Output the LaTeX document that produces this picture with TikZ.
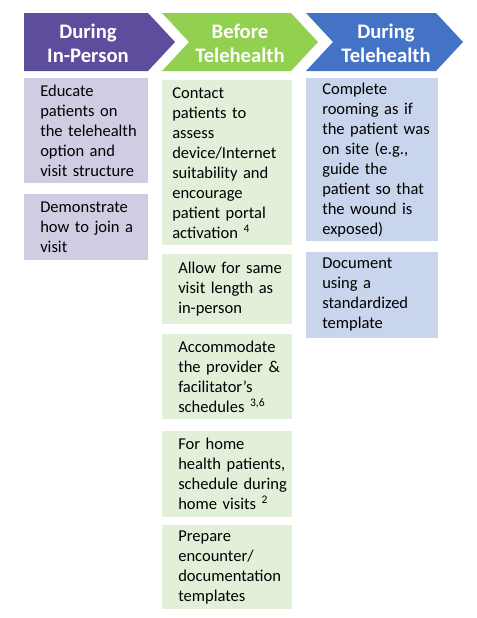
\documentclass[tikz,border=0pt]{standalone}
\usepackage{fontspec}
\setmainfont{Carlito}
\usepackage{tikz}
\usetikzlibrary{positioning}
\definecolor{my_purple}{HTML}{5E4C9C}
\definecolor{my_green}{HTML}{92D050}
\definecolor{my_blue}{HTML}{4472C4}
\definecolor{my_lightpurple}{HTML}{CFCDE3}
\definecolor{my_lightgreen}{HTML}{E2EFD9}
\definecolor{my_lightblue}{HTML}{C9D4ED}
\hyphenpenalty=10000

\begin{document}
\begin{tikzpicture}[
    x=0.75pt, y=-0.75pt,
    head/.style={font=\fontsize{15.5}{18}\selectfont\bfseries, text=white, align=center, inner sep=0pt},
    box/.style={font=\fontsize{12.4}{15}\selectfont, inner xsep=0pt, inner ysep=0pt, align=left,
        execute at begin node={\setlength{\leftskip}{12pt}\rightskip=-10pt plus 1fil}},
    pad/.style={execute at begin node={\setlength{\leftskip}{#1}}}
]
\useasboundingbox (0,0) rectangle (476,618);

% ================================================================
% KOPFZEILE: drei Pfeile
% ================================================================
\coordinate (P1) at (24,13);
\coordinate (G1) at (162,13);
\coordinate (B1) at (306,13);

\fill[my_purple] (P1) -- ++(124,0) -- ++(27,29) -- ++(-27,29) -- ++(-124,0) -- cycle;
\fill[my_green]  (G1) -- ++(129,0) -- ++(27,29) -- ++(-27,29) -- ++(-129,0) -- ++(27,-29) -- cycle;
\fill[my_blue]   (B1) -- ++(130,0) -- ++(27,29) -- ++(-27,29) -- ++(-130,0) -- ++(27,-29) -- cycle;

\node[head] (h_inperson) at (88,43)  {During\\In-Person};
\node[head] (h_before)   at (240,43) {Before\\Telehealth};
\node[head] (h_during)   at (386,43) {During\\Telehealth};

% ================================================================
% SPALTE 1: During In-Person
% ================================================================
\node[box, fill=my_lightpurple, text width=93pt, minimum height=78.75pt, anchor=north west] (ip1)
    at (24,78) {Educate\\patients on\\the telehealth\\option and\\visit structure};
\node[box, fill=my_lightpurple, text width=93pt, minimum height=49.5pt, below=7.5pt of ip1] (ip2)
    {Demonstrate\\how to join a\\visit};

% ================================================================
% SPALTE 2: Before Telehealth
% ================================================================
\node[box, pad=7.5pt, fill=my_lightgreen, text width=97.5pt, minimum height=123.75pt, anchor=north west] (bt1)
    at (162,80) {Contact\\patients to\\assess\\device/Internet\\suitability and\\encourage\\patient portal\\activation \textsuperscript{4}};
\node[box, fill=my_lightgreen, text width=97.5pt, minimum height=52.5pt, below=6pt of bt1] (bt2)
    {Allow for same\\visit length as\\in-person};
\node[box, fill=my_lightgreen, text width=97.5pt, minimum height=63.75pt, below=7.5pt of bt2] (bt3)
    {Accommodate\\the provider \&\\facilitator’s\\schedules \textsuperscript{3,6}};
\node[box, fill=my_lightgreen, text width=97.5pt, minimum height=64.5pt, below=8.25pt of bt3] (bt4)
    {For home\\health patients,\\schedule during\\home visits \textsuperscript{2}};
\node[box, fill=my_lightgreen, text width=97.5pt, minimum height=63pt, below=6pt of bt4] (bt5)
    {Prepare\\encounter/\\documentation\\templates};

% ================================================================
% SPALTE 3: During Telehealth
% ================================================================
\node[box, fill=my_lightblue, text width=99pt, minimum height=122.25pt, anchor=north west] (dt1)
    at (306,78) {Complete\\rooming as if\\the patient was\\on site (e.g.,\\guide the\\patient so that\\the wound is\\exposed)};
\node[box, fill=my_lightblue, text width=99pt, minimum height=64.5pt, below=7.5pt of dt1] (dt2)
    {Document\\using a\\standardized\\template};

\end{tikzpicture}
\end{document}
